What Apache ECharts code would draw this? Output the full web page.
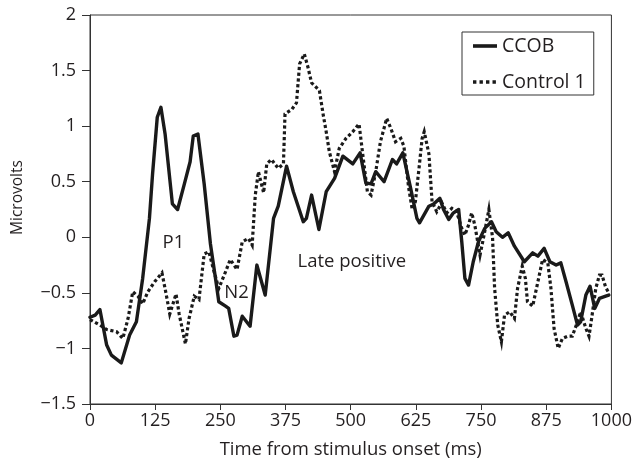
<!DOCTYPE html>
<html>
<head>
<meta charset="utf-8">
<script src="https://cdn.jsdelivr.net/npm/echarts@6/dist/echarts.min.js"></script>
<style>
html,body{margin:0;padding:0;background:#fff;}
#chart{width:635px;height:464px;}
</style>
</head>
<body>
<div id="chart"></div>
<script>
// Time (ms) and amplitude (microvolts)
const ccobTime = [0,10,19,32,41,60,76,89,101,114,120,129,136,144,158,168,181,192,198,207,219,231,241,247,260,266,276,282,292,307,320,336,352,361,377,390,409,415,425,439,453,469,485,504,518,529,539,548,564,580,588,600,615,627,632,650,659,671,678,688,697,707,713,719,726,735,745,757,770,779,791,802,814,833,849,859,871,882,894,903,913,925,935,941,951,959,968,977,989,995];
const ccobValue = [-0.72,-0.70,-0.65,-0.97,-1.06,-1.13,-0.88,-0.76,-0.37,0.17,0.57,1.08,1.17,0.93,0.30,0.25,0.48,0.68,0.91,0.93,0.48,-0.06,-0.38,-0.58,-0.62,-0.64,-0.89,-0.88,-0.71,-0.80,-0.25,-0.52,0.17,0.28,0.64,0.41,0.14,0.17,0.38,0.07,0.41,0.53,0.73,0.66,0.76,0.49,0.48,0.59,0.50,0.70,0.66,0.76,0.44,0.17,0.13,0.28,0.30,0.35,0.25,0.16,0.22,0.25,-0.04,-0.37,-0.43,-0.22,-0.04,0.08,0.14,0.05,0.00,0.04,-0.08,-0.22,-0.14,-0.17,-0.10,-0.22,-0.25,-0.23,-0.40,-0.61,-0.79,-0.76,-0.52,-0.44,-0.64,-0.55,-0.53,-0.52];

const controlTime = [0,19,32,51,63,73,82,92,101,111,124,138,146,153,165,171,183,190,200,209,219,228,238,247,260,269,282,292,304,311,317,323,333,339,348,361,371,374,387,396,402,411,418,425,440,447,453,459,469,478,491,504,516,523,532,539,548,557,569,577,586,596,602,611,618,624,631,637,641,650,656,665,675,684,694,703,713,719,726,732,738,748,757,765,772,776,782,789,795,805,814,820,829,835,839,849,859,868,878,884,890,898,906,916,925,935,941,951,957,963,970,977,982,989,995];
const controlValue = [-0.74,-0.79,-0.83,-0.85,-0.91,-0.73,-0.49,-0.53,-0.60,-0.49,-0.40,-0.32,-0.51,-0.69,-0.51,-0.69,-0.96,-0.73,-0.53,-0.56,-0.15,-0.13,-0.31,-0.46,-0.31,-0.20,-0.29,-0.04,-0.01,-0.07,0.38,0.59,0.40,0.66,0.70,0.62,0.66,1.11,1.15,1.21,1.56,1.65,1.53,1.39,1.32,1.11,0.95,0.77,0.59,0.80,0.89,0.95,1.02,0.75,0.41,0.38,0.59,0.86,1.07,0.98,0.86,0.89,0.82,0.45,0.25,0.32,0.62,0.89,0.95,0.75,0.32,0.23,0.31,0.22,0.26,0.23,0.08,0.02,0.11,0.22,0.11,-0.16,0.05,0.25,0.00,-0.46,-0.79,-0.94,-0.70,-0.67,-0.73,-0.46,-0.26,-0.37,-0.58,-0.62,-0.40,-0.20,-0.23,-0.46,-0.82,-1.00,-0.91,-0.89,-0.89,-0.76,-0.67,-0.82,-0.89,-0.70,-0.46,-0.34,-0.34,-0.45,-0.50];

const seriesNames = ['CCOB', 'Control 1'];
const xTickValues = [0,125,250,375,500,625,750,875,1000];
const yTickValues = [-1.5,-1,-0.5,0,0.5,1,1.5,2];
const annotations = [
  {text: 'P1', time: 160, value: -0.05},
  {text: 'N2', time: 281, value: -0.50},
  {text: 'Late positive', time: 502, value: -0.22}
];

const FONT = '"Open Sans", "DejaVu Sans", sans-serif';
const INK = '#231f20';
const SOLID_ICON = 'path://M0,0H24V3.6H0Z';
const DOT_ICON = 'path://M0,0h3.4v3.6h-3.4z M6.5,0h3.4v3.6h-3.4z M13,0h3.4v3.6h-3.4z M19.5,0h3.4v3.6h-3.4z M24,0h0v3.6h0z';

function pairs(ts, vs) { return ts.map((t, i) => [t, vs[i]]); }

const chart = echarts.init(document.getElementById('chart'), null, {renderer: 'canvas'});
chart.setOption({
  animation: false,
  backgroundColor: '#fff',
  textStyle: {fontFamily: FONT, color: INK},
  grid: {left: 90, right: 19, top: 15, bottom: 60, show: true, borderColor: '#333', borderWidth: 1, backgroundColor: 'transparent'},
  legend: {
    data: [
      {name: seriesNames[0], icon: SOLID_ICON},
      {name: seriesNames[1], icon: DOT_ICON}
    ],
    orient: 'vertical',
    left: 462, top: 32,
    padding: [4, 8, 3, 11],
    itemGap: 16,
    itemWidth: 24, itemHeight: 3.6,
    borderColor: '#333', borderWidth: 1, backgroundColor: '#fff',
    itemStyle: {color: '#1a1a1a', borderWidth: 0},
    textStyle: {fontFamily: FONT, fontSize: 19.5, color: INK, lineHeight: 20}
  },
  xAxis: {
    type: 'value', min: 0, max: 1000, interval: 125,
    name: 'Time from stimulus onset (ms)', nameLocation: 'middle', nameGap: 36,
    nameTextStyle: {fontFamily: FONT, fontSize: 18.5, color: INK},
    axisLine: {show: true, onZero: false, lineStyle: {color: '#333', width: 1}},
    axisTick: {show: true, length: 6, inside: false, lineStyle: {color: '#333'}},
    axisLabel: {fontFamily: FONT, fontSize: 18, color: INK, margin: 8,
      formatter: v => xTickValues.indexOf(v) >= 0 ? String(v) : ''},
    splitLine: {show: false}
  },
  yAxis: {
    type: 'value', min: -1.5, max: 2, interval: 0.5,
    name: 'Microvolts', nameLocation: 'middle', nameGap: 64,
    nameTextStyle: {fontFamily: FONT, fontSize: 15.5, color: INK, padding: [0, 0, 0, 24]},
    axisLine: {show: true, onZero: false, lineStyle: {color: '#333', width: 1}},
    axisTick: {show: true, length: 8, lineStyle: {color: '#333'}},
    axisLabel: {fontFamily: FONT, fontSize: 18, color: INK, margin: 14,
      formatter: v => yTickValues.indexOf(v) >= 0 ? String(v).replace('-', '\u2212') : ''},
    splitLine: {show: false}
  },
  series: [
    {
      name: seriesNames[0], type: 'line', data: pairs(ccobTime, ccobValue),
      showSymbol: false, symbol: 'none', z: 3,
      lineStyle: {color: '#1a1a1a', width: 3.4, cap: 'round', join: 'round'},
      itemStyle: {color: '#1a1a1a'},
      markPoint: {
        symbol: 'circle', symbolSize: 0, silent: true,
        label: {show: true, position: 'inside', fontFamily: FONT, fontSize: 18.5, color: INK,
          formatter: p => p.name},
        data: annotations.map(a => ({name: a.text, coord: [a.time, a.value]}))
      }
    },
    {
      name: seriesNames[1], type: 'line', data: pairs(controlTime, controlValue),
      showSymbol: false, symbol: 'none', z: 2,
      lineStyle: {color: '#1a1a1a', width: 3.2, type: [3.2, 2.6], cap: 'butt', join: 'miter'},
      itemStyle: {color: '#1a1a1a'}
    }
  ]
});
</script>
</body>
</html>
